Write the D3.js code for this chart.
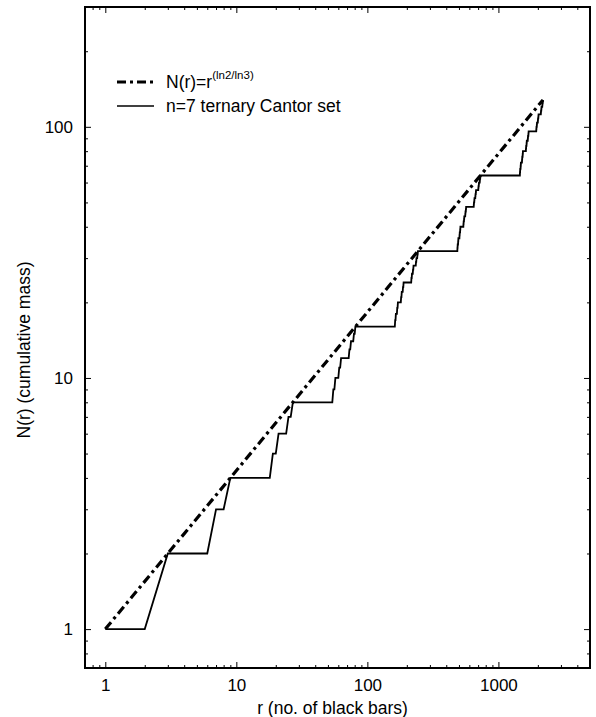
<!DOCTYPE html>
<html>
<head>
<meta charset="utf-8">
<script src="https://cdn.jsdelivr.net/npm/d3@7"></script>
<style>
  body { margin: 0; background: #fff; }
  svg text { font-family: "Liberation Sans", Arial, Helvetica, sans-serif; fill: #000; }
</style>
</head>
<body>
<svg width="596" height="717"></svg>
<script>
// r positions (1-indexed cell) of each black bar of the n=7 ternary Cantor set
var blackBarR = [
  1, 3, 7, 9, 19, 21, 25, 27, 55, 57, 61, 63, 73, 75, 79, 81,
  163, 165, 169, 171, 181, 183, 187, 189, 217, 219, 223, 225, 235, 237, 241, 243,
  487, 489, 493, 495, 505, 507, 511, 513, 541, 543, 547, 549, 559, 561, 565, 567,
  649, 651, 655, 657, 667, 669, 673, 675, 703, 705, 709, 711, 721, 723, 727, 729,
  1459, 1461, 1465, 1467, 1477, 1479, 1483, 1485, 1513, 1515, 1519, 1521, 1531, 1533, 1537, 1539,
  1621, 1623, 1627, 1629, 1639, 1641, 1645, 1647, 1675, 1677, 1681, 1683, 1693, 1695, 1699, 1701,
  1945, 1947, 1951, 1953, 1963, 1965, 1969, 1971, 1999, 2001, 2005, 2007, 2017, 2019, 2023, 2025,
  2107, 2109, 2113, 2115, 2125, 2127, 2131, 2133, 2161, 2163, 2167, 2169, 2179, 2181, 2185, 2187
];

// power law N(r)=r^(ln2/ln3), straight on log-log: end points
var powerR = [1, 2187];
var powerN = [1, 128];

var xMajor = [1, 10, 100, 1000];
var yMajor = [1, 10, 100];
var xMinor = [0.8, 0.9, 2, 3, 4, 5, 6, 7, 8, 9, 20, 30, 40, 50, 60, 70, 80, 90,
  200, 300, 400, 500, 600, 700, 800, 900, 2000, 3000, 4000];
var yMinor = [0.8, 0.9, 2, 3, 4, 5, 6, 7, 8, 9, 20, 30, 40, 50, 60, 70, 80, 90, 200];

var svg = d3.select("svg");
var pLeft = 85, pRight = 590, pTop = 7, pBottom = 668;

var x = d3.scaleLog().domain([0.7, 5000]).range([pLeft, pRight]);
var y = d3.scaleLog().domain([0.7, 300]).range([pBottom, pTop]);

// staircase vertices from the cumulative count
var stair = [[1, 1]];
blackBarR.forEach(function (r, i) {
  if (i == 0) return;
  stair.push([r - 1, i]);
  stair.push([r, i + 1]);
});

var g = svg.append("g");

// axes, ticks pointing inward on all four sides
function axisSet(axisFn, scale, vals, size, pos, labels, pad) {
  var a = axisFn(scale).tickValues(vals).tickSize(-size).tickPadding(pad || 0);
  a.tickFormat(labels ? d3.format("d") : "");
  var ag = g.append("g").attr("transform", pos).call(a);
  ag.select(".domain").remove();
  ag.selectAll("line").attr("stroke", "#000").attr("stroke-width", 1);
  ag.selectAll("text").style("font-size", "17px").attr("fill", "#000");
  return ag;
}

axisSet(d3.axisBottom, x, xMajor, 6, "translate(0," + pBottom + ")", true, 11);
axisSet(d3.axisBottom, x, xMinor, 3, "translate(0," + pBottom + ")", false);
axisSet(d3.axisTop, x, xMajor, 6, "translate(0," + pTop + ")", false);
axisSet(d3.axisTop, x, xMinor, 3, "translate(0," + pTop + ")", false);
axisSet(d3.axisLeft, y, yMajor, 6, "translate(" + pLeft + ",0)", true, 12);
axisSet(d3.axisLeft, y, yMinor, 3, "translate(" + pLeft + ",0)", false);
axisSet(d3.axisRight, y, yMajor, 6, "translate(" + pRight + ",0)", false);
axisSet(d3.axisRight, y, yMinor, 3, "translate(" + pRight + ",0)", false);

// frame
g.append("rect")
  .attr("x", pLeft).attr("y", pTop)
  .attr("width", pRight - pLeft).attr("height", pBottom - pTop)
  .attr("fill", "none").attr("stroke", "#000").attr("stroke-width", 2);

var line = d3.line()
  .x(function (d) { return x(d[0]); })
  .y(function (d) { return y(d[1]); });

// power law line
g.append("path")
  .datum(powerR.map(function (r, i) { return [r, powerN[i]]; }))
  .attr("d", line)
  .attr("fill", "none")
  .attr("stroke", "#000")
  .attr("stroke-width", 3.2)
  .attr("stroke-dasharray", "9,4,3,4");

// cantor staircase
g.append("path")
  .datum(stair)
  .attr("d", line)
  .attr("fill", "none")
  .attr("stroke", "#000")
  .attr("stroke-width", 1.8)
  .attr("stroke-linejoin", "miter");

// legend
var leg = g.append("g");
leg.append("line")
  .attr("x1", 117).attr("x2", 154).attr("y1", 82).attr("y2", 82)
  .attr("stroke", "#000").attr("stroke-width", 3.2).attr("stroke-dasharray", "9,4,3,4");
var t1 = leg.append("text").attr("x", 166).attr("y", 88).style("font-size", "17.5px");
t1.append("tspan").text("N(r)=r");
t1.append("tspan").attr("dy", -9).style("font-size", "11.5px").text("(ln2/ln3)");

leg.append("line")
  .attr("x1", 117).attr("x2", 154).attr("y1", 106).attr("y2", 106)
  .attr("stroke", "#000").attr("stroke-width", 1.5);
leg.append("text").attr("x", 166).attr("y", 112).style("font-size", "17.5px")
  .text("n=7 ternary Cantor set");

// axis titles
svg.append("text")
  .attr("x", (pLeft + pRight) / 2 - 5).attr("y", 714)
  .attr("text-anchor", "middle").style("font-size", "17.5px")
  .text("r (no. of black bars)");

svg.append("text")
  .attr("transform", "translate(30," + 350 + ") rotate(-90)")
  .attr("text-anchor", "middle").style("font-size", "17.5px")
  .text("N(r) (cumulative mass)");
</script>
</body>
</html>
